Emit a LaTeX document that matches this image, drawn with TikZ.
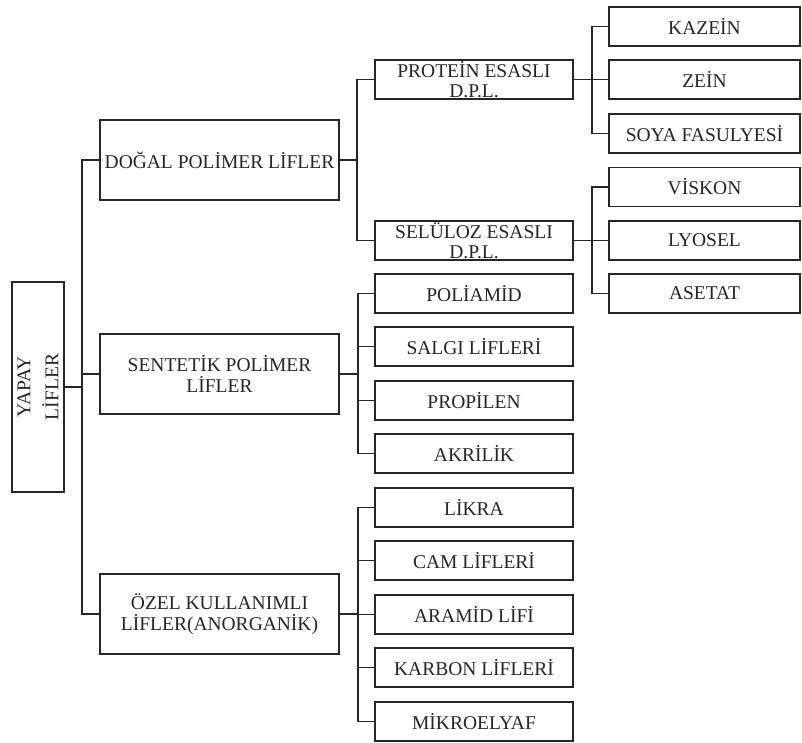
\documentclass[tikz,border=0pt]{standalone}
\usepackage{fontspec}
\setmainfont{Liberation Serif}
\begin{document}
\begin{tikzpicture}[x=1pt,y=-1pt,
  every node/.style={inner sep=0pt, outer sep=0pt, text=black!85, font=\fontsize{19.5}{20.5}\selectfont, align=center},
  box/.style={draw=black!85, line width=1.2pt},
  bigbox/.style={box, minimum width=239pt, minimum height=80pt},
  midbox/.style={box, minimum width=198pt, minimum height=39pt},
  leafbox/.style={box, minimum width=191pt, minimum height=39pt},
  conn/.style={draw=black!85, line width=1.2pt}]
\useasboundingbox[fill=white] (0,0) rectangle (802,743);
% root
\node[box, rotate=90, minimum width=210pt, minimum height=52pt, font=\fontsize{19.5}{28}\selectfont] (root) at (38,387) {YAPAY\\LİFLER};
% level 1
\node[bigbox] (dogal) at (219.5,160) {DOĞAL POLİMER LİFLER};
\node[bigbox] (sent) at (219.5,374) {SENTETİK POLİMER\\LİFLER};
\node[bigbox] (ozel) at (219.5,614) {ÖZEL KULLANIMLI\\LİFLER(ANORGANİK)};
% level 2
\node[midbox] (prot) at (474,79.5) {PROTEİN ESASLI\\D.P.L.};
\node[midbox] (selu) at (474,240.5) {SELÜLOZ ESASLI\\D.P.L.};
\node[midbox] (poli) at (474,293.5) {POLİAMİD};
\node[midbox] (salgi) at (474,346.5) {SALGI LİFLERİ};
\node[midbox] (prop) at (474,400.5) {PROPİLEN};
\node[midbox] (akr) at (474,453.5) {AKRİLİK};
\node[midbox] (likra) at (474,507.5) {LİKRA};
\node[midbox] (cam) at (474,560.5) {CAM LİFLERİ};
\node[midbox] (aram) at (474,614.5) {ARAMİD LİFİ};
\node[midbox] (karb) at (474,667.5) {KARBON LİFLERİ};
\node[midbox] (mikro) at (474,721.5) {MİKROELYAF};
% level 3
\node[leafbox] (kaz) at (704.5,26.5) {KAZEİN};
\node[leafbox] (zein) at (704.5,79.5) {ZEİN};
\node[leafbox] (soya) at (704.5,133.5) {SOYA FASULYESİ};
\node[leafbox] (visk) at (704.5,187) {VİSKON};
\node[leafbox] (lyo) at (704.5,240.5) {LYOSEL};
\node[leafbox] (aset) at (704.5,293.5) {ASETAT};
% connectors
\draw[conn, line width=2pt] (root.south) -- ++(18,0);
\foreach \c in {dogal,sent,ozel} \draw[conn] (root.south) ++(18,0) |- (\c.west);
\foreach \c in {prot,selu} \draw[conn] (dogal.east) -- ++(18,0) |- (\c.west);
\foreach \c in {poli,salgi,prop,akr} \draw[conn] (sent.east) -- ++(19,0) |- (\c.west);
\foreach \c in {likra,cam,aram,karb,mikro} \draw[conn] (ozel.east) -- ++(19,0) |- (\c.west);
\foreach \c in {kaz,zein,soya} \draw[conn] (prot.east) -- ++(19,0) |- (\c.west);
\foreach \c in {visk,lyo,aset} \draw[conn] (selu.east) -- ++(19,0) |- (\c.west);
\end{tikzpicture}
\end{document}
